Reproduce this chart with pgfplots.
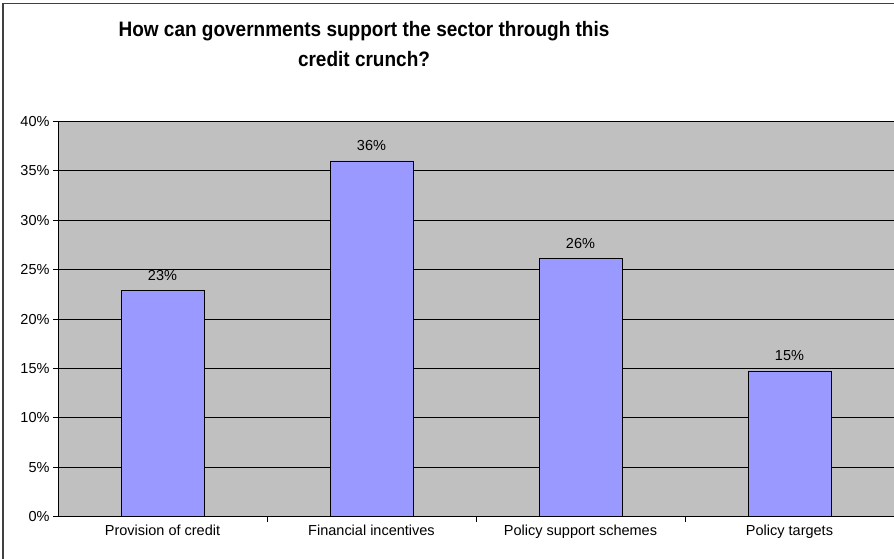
\documentclass[border=0pt]{standalone}
\usepackage{fontspec}
\setmainfont{Liberation Sans}
\usepackage{pgfplots}
\pgfplotsset{compat=1.18}
\definecolor{barfill}{HTML}{9999FF}
\definecolor{plotbg}{HTML}{C0C0C0}
\definecolor{frame}{HTML}{404040}
\begin{document}
\begin{tikzpicture}[x=1pt,y=1pt]
\path[use as bounding box] (0,0) rectangle (894,559);
\draw[frame, line width=1.6pt] (3,0) -- (3,555.5) -- (894,555.5);
\node[anchor=base, inner sep=0pt, font=\fontsize{19}{23}\selectfont\bfseries] at (364,522.3) {\scalebox{1}[1.1]{How can governments support the sector through this}};
\node[anchor=base, inner sep=0pt, font=\fontsize{19}{23}\selectfont\bfseries] at (364,492) {\scalebox{1}[1.1]{credit crunch?}};
\begin{axis}[
  at={(58pt,42.3pt)}, anchor=south west,
  scale only axis, width=836pt, height=395.3pt,
  xmin=-0.5, xmax=3.5, ymin=0, ymax=40,
  axis x line*=bottom, axis y line*=left,
  axis line style={black, line width=0.8pt},
  axis background/.style={fill=plotbg},
  xtick={0,1,2,3},
  xticklabels={Provision of credit, Financial incentives, Policy support schemes, Policy targets},
  major x tick style={draw=none},
  minor xtick={0.5,1.5,2.5},
  minor tick length=5pt,
  major tick length=5pt,
  tick align=outside,
  tick style={black, line width=0.8pt},
  ytick={0,5,...,40},
  yticklabel={\pgfmathprintnumber{\tick}\%},
  /pgf/number format/assume math mode=true,
  ymajorgrids,
  grid style={black, line width=0.8pt},
  ticklabel style={font=\fontsize{14.5}{17}\selectfont},
  ybar, bar width=83pt,
  nodes near coords={\pgfmathprintnumber[fixed,precision=0]{\pgfplotspointmeta}\%},
  nodes near coords style={font=\fontsize{14.5}{17}\selectfont, anchor=base, inner sep=0pt, yshift=10pt},
  point meta=y,
]
\addplot[fill=barfill, draw=black, line width=0.8pt] coordinates {(0,22.9) (1,36.0) (2,26.1) (3,14.75)};
\end{axis}
\end{tikzpicture}
\end{document}
